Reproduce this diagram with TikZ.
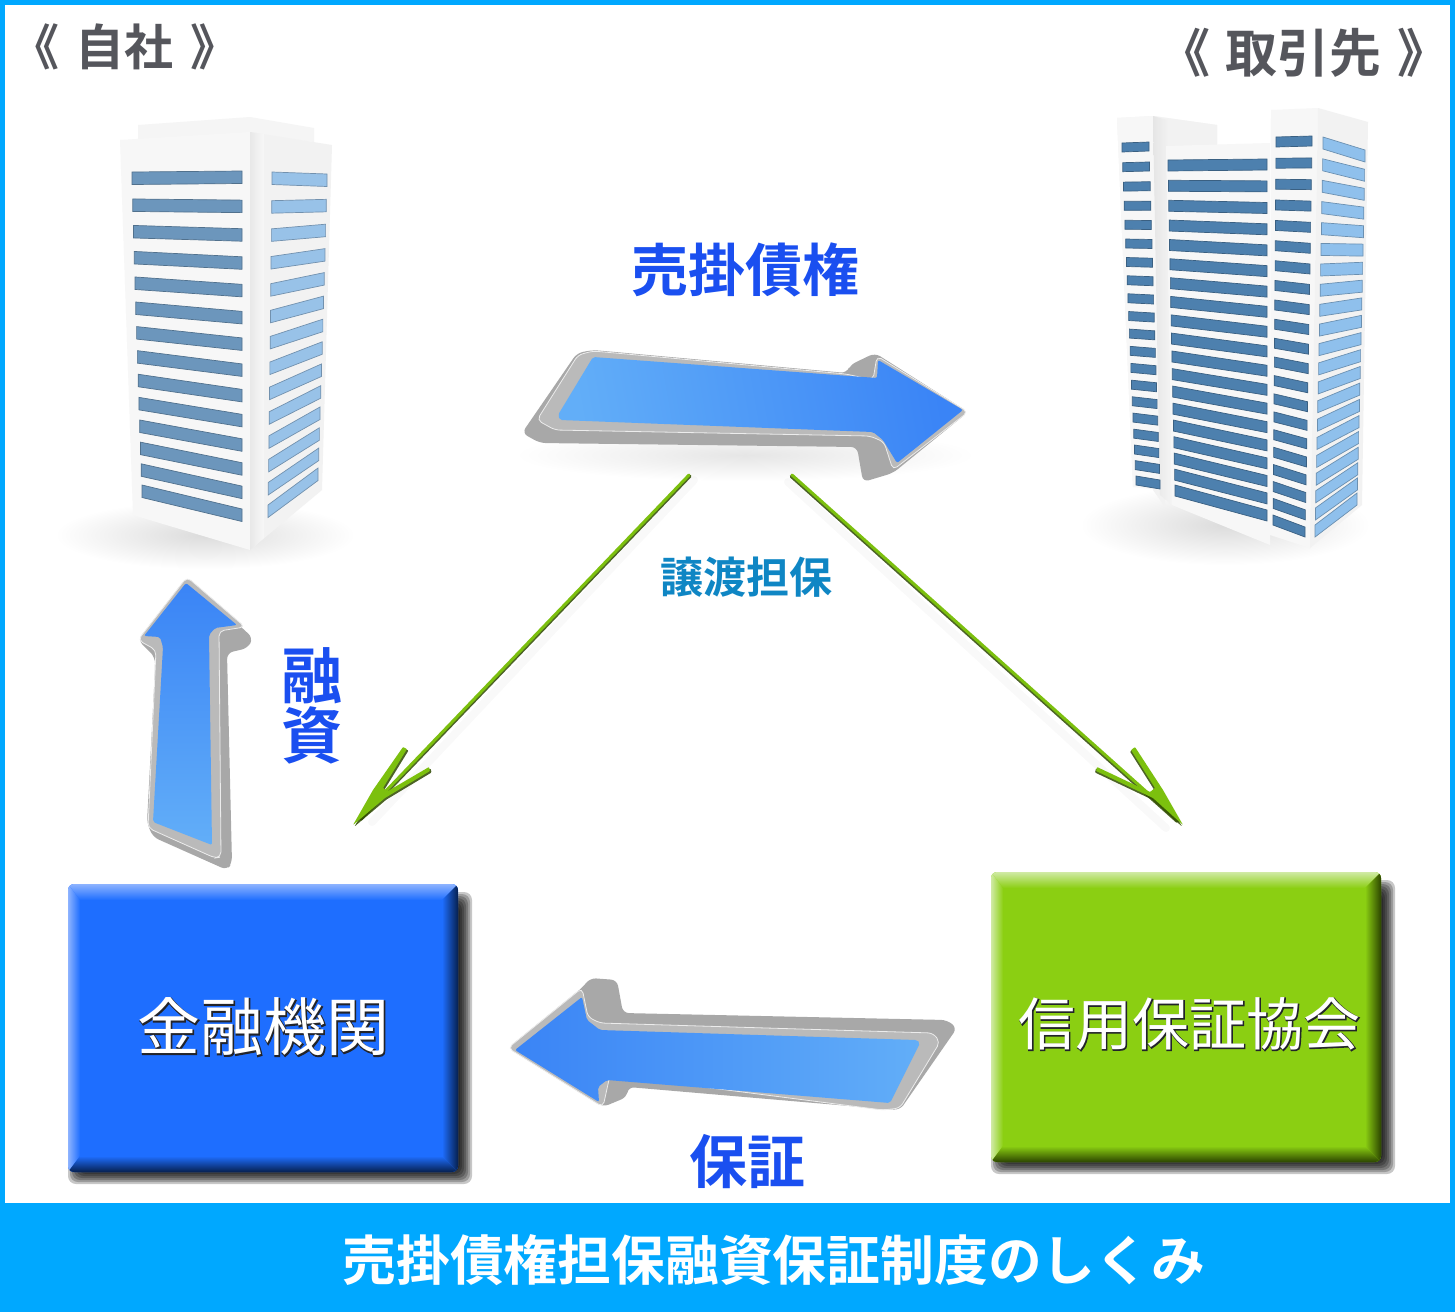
\documentclass[tikz,border=0pt]{standalone}
\usepackage{fontspec}
\setmainfont{Noto Sans CJK JP}[BoldFont={Noto Sans CJK JP Bold}]
\newfontfamily\jp{Noto Sans CJK JP}[BoldFont={Noto Sans CJK JP Bold}]
\newfontfamily\jpfat{Noto Sans CJK JP}[FakeBold=2.2]
\usetikzlibrary{arrows.meta,calc}
\definecolor{frameblue}{HTML}{00A8FF}
\definecolor{titlegrey}{HTML}{55565C}
\definecolor{labelblue}{HTML}{1A4FF0}
\definecolor{labelteal}{HTML}{0F86C4}
\definecolor{bankblue}{HTML}{1E6EFF}
\definecolor{bankhi}{HTML}{8DB3FF}
\definecolor{bankdk}{HTML}{06204F}
\definecolor{guargreen}{HTML}{8BCF12}
\definecolor{guarhi}{HTML}{D0EAA5}
\definecolor{guardk}{HTML}{2C4500}
\definecolor{arrowlt}{HTML}{62AEF8}
\definecolor{arrowdp}{HTML}{3A84F6}
\definecolor{sidegrey}{HTML}{A8A8A8}
\definecolor{facegrey}{HTML}{BABABA}
\definecolor{linegreen}{HTML}{7CC00E}
\definecolor{linedark}{HTML}{2F4A00}
\definecolor{winA}{HTML}{6C96BC}
\definecolor{winB}{HTML}{98C2E8}
\definecolor{winC}{HTML}{4D80AE}
\definecolor{winD}{HTML}{8FC0EC}
\definecolor{embdk}{HTML}{22242A}
\newcommand{\embossed}[1]{\rlap{\kern.9pt\raisebox{-.9pt}{\color{embdk}\jpfat #1}}\textcolor{white}{#1}}
\tikzset{
  x=1pt,y=-1pt,
  cjk/.style={inner sep=0pt,outer sep=0pt,font=\jp\bfseries,align=center},
  side3d/.style={fill=sidegrey,rounded corners=6pt},
  face3d/.style={fill=facegrey,draw=white!85!gray,line width=.8pt,rounded corners=5pt},
  softshadow/.style={fill=black,opacity=.22,rounded corners=8pt},
  bfront/.style={fill=black!3},
  bside/.style={fill=black!5},
  flink/.style={line width=3pt,draw=linegreen,line cap=round},
  flinkdk/.style={line width=3pt,draw=linedark,line cap=round,opacity=.85},
  flinksh/.style={line width=8pt,draw=black,opacity=.025,line cap=round},
}
% rows of windows: n, first row x1 y1 x2 y2, last row x1 y1 x2 y2
\newcommand{\windows}[9]{%
  \foreach \i in {1,...,#1}{%
    \pgfmathsetmacro{\t}{(\i-1)/(#1-1)}%
    \pgfmathsetmacro{\s}{\t+0.13*\t*(1-\t)}%
    \pgfmathsetmacro{\xa}{#2+\t*(#6-#2)}%
    \pgfmathsetmacro{\ya}{#3+\s*(#7-#3)}%
    \pgfmathsetmacro{\xb}{#4+\t*(#8-#4)}%
    \pgfmathsetmacro{\yb}{#5+\s*(#9-#5)}%
    \filldraw[fill=\wcol,draw=\wcol!75!black,line width=.7pt]
      (\xa,\ya)--(\xb,\yb)--(\xb,\yb+\wth)--(\xa,\ya+\wth)--cycle;
  }}
\begin{document}
\begin{tikzpicture}
\useasboundingbox (0,0) rectangle (1455,1312);
\fill[white] (0,0) rectangle (1455,1312);
% frame
\fill[frameblue] (0,0) rectangle (1455,5);
\fill[frameblue] (0,0) rectangle (5,1312);
\fill[frameblue] (1450,0) rectangle (1455,1312);
\fill[frameblue] (0,1203) rectangle (1455,1312);

% ---------- left building
\shade[inner color=black!14,outer color=white] (205,535) ellipse [x radius=150,y radius=34];
\fill[black!4] (138,125)--(250,117)--(314,128)--(314,142)--(250,134)--(138,140)--cycle;
\fill[bfront] (120,140)--(250,132)--(250,550)--(133,515)--cycle;
\fill[bside] (250,132)--(332,145)--(322,490)--(250,550)--cycle;
\shade[left color=black!9,right color=black!3] (250,132)--(264,134)--(264,538)--(250,550)--cycle;
\def\wcol{winA}\def\wth{12.5}
\windows{14}{132}{172}{242}{171}{142}{485}{242}{509}
\def\wcol{winB}\def\wth{12.5}
\windows{14}{272}{172}{327}{174}{268}{505}{318}{468}

% ---------- right building
\shade[inner color=black!14,outer color=white] (1225,525) ellipse [x radius=145,y radius=40];
\fill[black!4] (1117,118)--(1153,116)--(1217,125)--(1217,160)--(1153,160)--(1133,487)--cycle;
\fill[bside] (1153,116)--(1217,125)--(1217,146)--(1165,146)--(1165,507)--(1153,490)--cycle;
\fill[bfront] (1117,118)--(1153,116)--(1160,490)--(1133,487)--cycle;
\shade[left color=black!10,right color=black!4] (1153,116)--(1167,120)--(1172,505)--(1160,495)--cycle;
\fill[bfront] (1166,146)--(1270,143)--(1270,545)--(1172,505)--cycle;
\fill[bfront] (1271,110)--(1318,108)--(1310,548)--(1270,535)--cycle;
\fill[bside] (1318,108)--(1368,122)--(1362,505)--(1310,548)--cycle;
\def\wcol{winC}\def\wth{9}
\windows{20}{1122}{143}{1149}{142}{1136}{476}{1160}{480}
\def\wcol{winC}\def\wth{11}
\windows{19}{1168}{160}{1267}{159}{1175}{485}{1267}{510}
\def\wcol{winC}\def\wth{10}
\windows{21}{1276}{137}{1312}{136}{1273}{515}{1305}{527}
\def\wcol{winD}\def\wth{12}
\windows{21}{1323}{137}{1365}{150}{1315}{525}{1357}{493}

% ---------- top arrow
\shade[inner color=black!10,outer color=white] (745,455) ellipse [x radius=230,y radius=26];
\fill[side3d] (522,433)--(577,353)--(593,350)--(847,373)--(850,365)--(875,353)--(968,412)--(893,473)--(863,482)--(857,447)--(540,443)--cycle;
\filldraw[face3d] (537,420)--(578,355)--(593,351)--(846,374)--(873,380)--(877,356)--(968,412)--(893,470)--(884,442)--(870,436)--(555,430)--cycle;
\shade[left color=arrowlt,right color=arrowdp,rounded corners=2pt,shading angle=100] (593,357)--(877,378)--(878,360)--(963,410)--(897,463)--(883,440)--(873,432)--(560,420)--(558,415)--cycle;

% ---------- left arrow
\fill[side3d] (187,577)--(253,638)--(248,648)--(227,653)--(232,863)--(227,870)--(153,837)--(147,823)--(155,670)--(155,657)--(138,640)--cycle;
\filldraw[face3d] (187,577)--(245,627)--(219,631)--(221,857)--(215,858)--(148,828)--(156,650)--(138,640)--cycle;
\shade[top color=arrowdp,bottom color=arrowlt,rounded corners=2pt] (186,583)--(237,625)--(215,628)--(209,635)--(212,845)--(153,822)--(163,647)--(160,637)--(144,636)--cycle;

% ---------- bottom arrow
\fill[side3d] (508,1048)--(583,987)--(590,978)--(617,980)--(623,1013)--(947,1020)--(957,1028)--(900,1110)--(873,1108)--(628,1087)--(627,1097)--(603,1107)--cycle;
\filldraw[face3d] (508,1048)--(582,988)--(588,1017)--(600,1023)--(933,1033)--(940,1042)--(900,1108)--(883,1110)--(610,1075)--(603,1107)--cycle;
\shade[left color=arrowdp,right color=arrowlt,rounded corners=2pt] (515,1050)--(582,997)--(587,1020)--(600,1030)--(917,1040)--(920,1043)--(890,1103)--(607,1080)--(598,1087)--(599,1102)--cycle;

% ---------- green connectors
\coordinate (ta) at (689,475);
\coordinate (tb) at (360,818);
\coordinate (ua) at (792,475);
\coordinate (ub) at (1178,820);
\draw[flinksh] ($(ta)+(5,5)$) -- ($(tb)+(12,4)$);
\draw[flinksh] ($(ua)+(-4,7)$) -- ($(ub)+(-12,8)$);
\draw[flinkdk] ($(ta)+(1,1.2)$) -- ($(tb)+(1,1.2)$);
\draw[flinkdk] ($(ua)+(-.9,1.4)$) -- ($(ub)+(-.9,1.4)$);
\draw[flink] (ta) -- (tb);
\draw[flink] (ua) -- (ub);
\newcommand{\headleft}{(353,825)--(373,790)--(403,747)--(407,749)--(383,788)--(388,791)--(429,767)--(430,771)--(385,798)--cycle}
\newcommand{\headright}{(1183,825)--(1163,790)--(1135,747)--(1131,750)--(1155,788)--(1150,792)--(1097,767)--(1096,771)--(1153,798)--cycle}
\begin{scope}[shift={(1.5,1.5)}]
\fill[linedark,opacity=.85,rounded corners=.8pt] \headleft;
\end{scope}
\begin{scope}[shift={(-1,1.5)}]
\fill[linedark,opacity=.85,rounded corners=.8pt] \headright;
\end{scope}
\fill[linegreen,rounded corners=.8pt] \headleft;
\fill[linegreen,rounded corners=.8pt] \headright;

% ---------- institution boxes (soft shadows)
\foreach \k in {-6,-4,...,6}{%
  \fill[softshadow] ({74-\k},{898-\k}) rectangle ({466+\k},{1178+\k});
  \fill[softshadow] ({997-\k},{886-\k}) rectangle ({1389+\k},{1168+\k});
}

\node[rounded corners=6pt,fill=bankblue,minimum width=390pt,minimum height=288pt,inner sep=0pt] (bank) at (263,1028) {};
\begin{scope}
\clip[rounded corners=6pt] (68,884) rectangle (458,1172);
\shade[top color=bankhi,bottom color=bankblue] (68,884)--(458,884)--(442,900)--(80,900)--cycle;
\shade[left color=bankhi,right color=bankblue] (68,884)--(80,900)--(80,1156)--(68,1172)--cycle;
\shade[left color=bankblue,middle color=bankdk!70!bankblue,right color=bankdk] (458,884)--(442,900)--(442,1156)--(458,1172)--cycle;
\shade[top color=bankblue,middle color=bankdk!70!bankblue,bottom color=bankdk] (68,1172)--(80,1156)--(442,1156)--(458,1172)--cycle;
\end{scope}

\node[rounded corners=6pt,fill=guargreen,minimum width=390pt,minimum height=290pt,inner sep=0pt] (guar) at (1186,1017) {};
\begin{scope}
\clip[rounded corners=6pt] (991,872) rectangle (1381,1162);
\shade[top color=guarhi,bottom color=guargreen] (991,872)--(1381,872)--(1365,888)--(1003,888)--cycle;
\shade[left color=guarhi,right color=guargreen] (991,872)--(1003,888)--(1003,1146)--(991,1162)--cycle;
\shade[left color=guargreen,middle color=guardk!70!guargreen,right color=guardk] (1381,872)--(1365,888)--(1365,1146)--(1381,1162)--cycle;
\shade[top color=guargreen,middle color=guardk!70!guargreen,bottom color=guardk] (991,1162)--(1003,1146)--(1365,1146)--(1381,1162)--cycle;
\end{scope}

% ---------- texts
\node[cjk,text=titlegrey,font=\jp\bfseries\fontsize{49}{49}\selectfont] (own) at (125,47) {《\hspace{5pt} 自社\hspace{5pt} 》};
\node[cjk,text=titlegrey,font=\jp\bfseries\fontsize{52}{52}\selectfont] (partner) at (1304,53) {《\hspace{4pt} 取引先\hspace{4pt} 》};
\node[cjk,text=labelblue,font=\jp\bfseries\fontsize{57}{57}\selectfont] (ar) at (745,270) {売掛債権};
\node[cjk,text=labelteal,font=\jp\bfseries\fontsize{43}{43}\selectfont] (joto) at (746,577) {譲渡担保};
\node[cjk,text=labelblue,font=\jp\bfseries\fontsize{61}{60}\selectfont] (loan) at (312,706) {融\\資};
\node[cjk,text=labelblue,font=\jp\bfseries\fontsize{58}{58}\selectfont] (hosho) at (747,1162) {保証};
\node[cjk,text=white,font=\jp\bfseries\fontsize{53.8}{53.8}\selectfont] (title) at (774,1260) {売掛債権担保融資保証制度のしくみ};
\node[inner sep=0pt,font=\jp\fontsize{63}{63}\selectfont] (banktext) at (263,1027) {\embossed{金融機関}};
\node[inner sep=0pt,font=\jp\fontsize{57}{57}\selectfont] (guartext) at (1189,1024) {\embossed{信用保証協会}};
\end{tikzpicture}
\end{document}
